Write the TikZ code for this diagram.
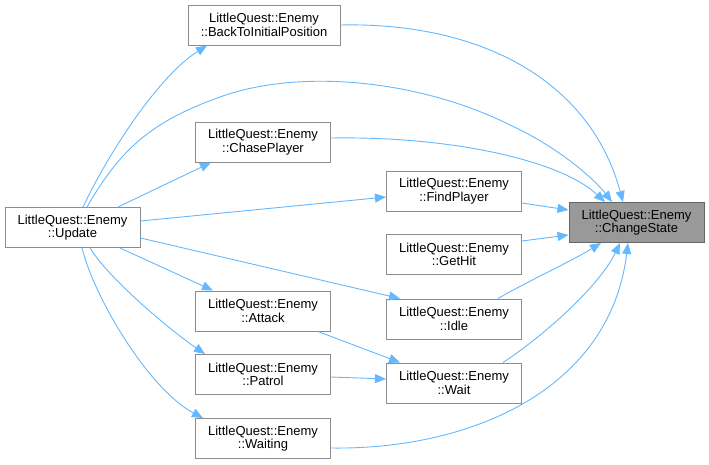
\documentclass[tikz,border=0pt]{standalone}
\usepackage{fontspec}
\setmainfont{Liberation Sans}
\usepackage{tikz}
\usetikzlibrary{arrows.meta}
\definecolor{edgeblue}{HTML}{63B8FF}
\definecolor{boxline}{HTML}{8C8C8C}
\definecolor{rootfill}{HTML}{999999}
\definecolor{rootline}{HTML}{666666}

\begin{document}
\begin{tikzpicture}[
  x=1pt, y=-1pt,
  font=\fontsize{13}{13.5}\selectfont,
  >={Triangle[length=11pt, width=9pt]},
  fn/.style={draw=boxline, line width=1pt, fill=white, align=center,
             minimum width=135pt, minimum height=40pt, inner sep=2pt},
  root/.style={fn, fill=rootfill, draw=rootline},
  call/.style={->, edgeblue, line width=0.9pt},
]
\useasboundingbox (0,0) rectangle (709,464);
% the callee
\node[root] (change) at (636.5,222.5) {LittleQuest::Enemy\\::ChangeState};
% direct callers
\node[fn, minimum width=152pt] (back) at (264,25) {LittleQuest::Enemy\\::BackToInitialPosition};
\node[fn] (chase)   at (263,142) {LittleQuest::Enemy\\::ChasePlayer};
\node[fn] (find)    at (454,191) {LittleQuest::Enemy\\::FindPlayer};
\node[fn] (gethit)  at (454,254.5) {LittleQuest::Enemy\\::GetHit};
\node[fn] (idle)    at (454,319) {LittleQuest::Enemy\\::Idle};
\node[fn] (wait)    at (454,383) {LittleQuest::Enemy\\::Wait};
\node[fn] (waiting) at (263,438.5) {LittleQuest::Enemy\\::Waiting};
% second level
\node[fn] (attack)  at (263,311) {LittleQuest::Enemy\\::Attack};
\node[fn] (patrol)  at (263,374.5) {LittleQuest::Enemy\\::Patrol};
\node[fn] (update)  at (72.5,227.5) {LittleQuest::Enemy\\::Update};
% calls into ChangeState
\draw[call] (back.east) .. controls (480,22) and (590,80) .. (change.north -| 623,0);
\draw[call] (update.north -| 87,0) .. controls (120,150) and (150,122) .. (220,97)
      .. controls (300,68) and (420,80) .. (510,125)
      .. controls (560,148) and (595,180) .. (change.north -| 612,0);
\draw[call] (chase.east |- 0,138) .. controls (450,136) and (560,160) .. (change.north -| 605,0);
\draw[call] (find.east |- 0,203) -- (change.west |- 0,210);
\draw[call] (gethit.east |- 0,241) -- (change.west |- 0,235);
\draw[call] (idle.north -| 498,0) .. controls (530,280) and (570,262) .. (change.south -| 601,0);
\draw[call] (wait.north -| 503,0) .. controls (545,335) and (600,285) .. (change.south -| 620,0);
\draw[call] (waiting.east |- 0,448) .. controls (470,450) and (610,390) .. (change.south -| 628,0);
% calls from Update
\draw[call] (update.north -| 83,0) .. controls (110,150) and (160,75) .. (back.south -| 207,0);
\draw[call] (update.north -| 118,0) -- (chase.south -| 211,0);
\draw[call] (update.east |- 0,221) -- (find.west |- 0,197);
\draw[call] (update.east |- 0,238) -- (idle.north -| 400,0);
\draw[call] (update.south -| 120,0) -- (attack.north -| 213,0);
\draw[call] (update.south -| 90,0) .. controls (110,280) and (170,330) .. (patrol.north -| 205,0);
\draw[call] (update.south -| 82,0) .. controls (95,300) and (150,390) .. (waiting.north -| 203,0);
% calls into Wait
\draw[call] (attack.south -| 318,0) -- (wait.north -| 400,0);
\draw[call] (patrol.east |- 0,377) -- (wait.west |- 0,379);
\end{tikzpicture}
\end{document}
